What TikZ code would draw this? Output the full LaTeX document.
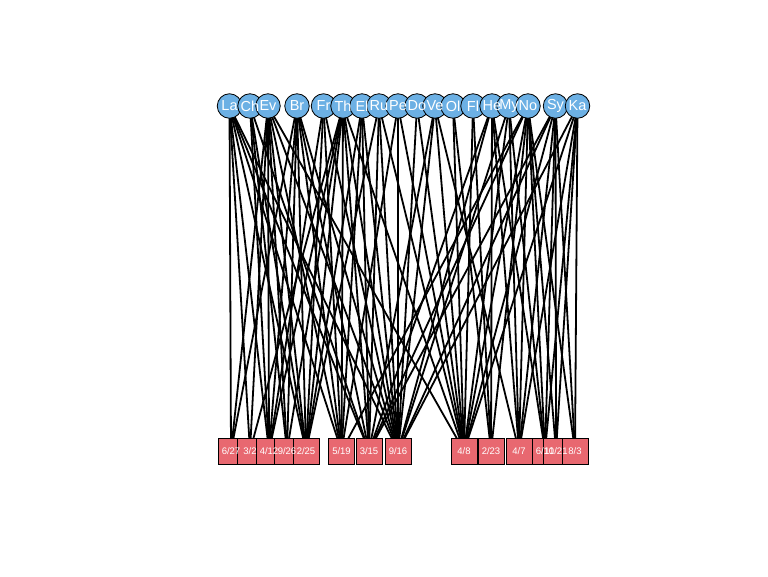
\documentclass[tikz,border=0pt]{standalone}
\usepackage{fontspec}
\setmainfont{Liberation Sans}
\usetikzlibrary{backgrounds}
\definecolor{wblue}{RGB}{108,176,228}
\definecolor{ered}{RGB}{232,104,112}
\begin{document}
\begin{tikzpicture}[x=1pt,y=-1pt,
 woman/.style={circle,draw=black,line width=0.8pt,fill=wblue,minimum size=24.5pt,inner sep=0pt},
 event/.style={rectangle,draw=black,line width=0.8pt,fill=ered,minimum size=26pt,inner sep=0pt},
 wlab/.style={text=white,font=\fontsize{14.5}{15}\selectfont,inner sep=0pt},
 elab/.style={text=white,font=\fontsize{9.5}{10}\selectfont,inner sep=0pt},
 link/.style={line width=1.8pt,black}]
\useasboundingbox (0,0) rectangle (768,576);
% women
\foreach \n/\x in {La/229.5,Ch/250,Ev/268,Br/297,Fr/323.5,Th/343,El/362,Ru/379,Pe/398,Do/417,Ve/435,Ol/453,Fl/473,He/492,My/509,No/528,Sy/555.5,Ka/577.5}
  \node[woman] (\n) at (\x,106) {};
% events
\foreach \n/\x in {E1/231,E2/250,E3/269,E4/287,E5/306,E6/341.5,E7/369,E8/398,E9/464,E11/491,E12/519,E10/545,E13/556,E14/575}
  \node[event] (\n) at (\x,451) {};
% edges
\begin{scope}[on background layer]
\foreach \w/\es in {Ev/{E1,E2,E3,E4,E5,E6,E8,E9},La/{E1,E2,E3,E5,E6,E7,E8},Th/{E2,E3,E4,E5,E6,E7,E8,E9},Br/{E1,E3,E4,E5,E6,E7,E8},Ch/{E3,E4,E5,E7},Fr/{E3,E5,E6,E8},El/{E5,E6,E7,E8},Pe/{E6,E8,E9},Ru/{E5,E7,E8,E9},Ve/{E7,E8,E9,E12},My/{E8,E9,E10,E12},Ka/{E8,E9,E10,E12,E13,E14},Sy/{E7,E8,E9,E10,E12,E13,E14},No/{E6,E7,E9,E10,E11,E12,E13,E14},He/{E7,E8,E10,E11,E12},Do/{E8,E9},Ol/{E9,E11},Fl/{E9,E11}}
  \foreach \e in \es
    \draw[link] (\w.center) -- (\e.center);
\end{scope}
% labels
\foreach \n in {La,Ch,Ev,Br,Fr,Th,El,Ru,Pe,Do,Ve,Ol,Fl,He,My,No,Sy,Ka}
  \node[wlab] (\n l) at (\n) {\n};
\node[elab] (E1l) at (E1) {6/27};
\node[elab] (E2l) at (E2) {3/2};
\node[elab] (E3l) at (E3) {4/12};
\node[elab] (E4l) at (E4) {9/26};
\node[elab] (E5l) at (E5) {2/25};
\node[elab] (E6l) at (E6) {5/19};
\node[elab] (E7l) at (E7) {3/15};
\node[elab] (E8l) at (E8) {9/16};
\node[elab] (E9l) at (E9) {4/8};
\node[elab] (E11l) at (E11) {2/23};
\node[elab] (E12l) at (E12) {4/7};
\node[elab] (E10l) at (E10) {6/10};
\node[elab] (E13l) at (E13) {11/21};
\node[elab] (E14l) at (E14) {8/3};
\end{tikzpicture}
\end{document}
